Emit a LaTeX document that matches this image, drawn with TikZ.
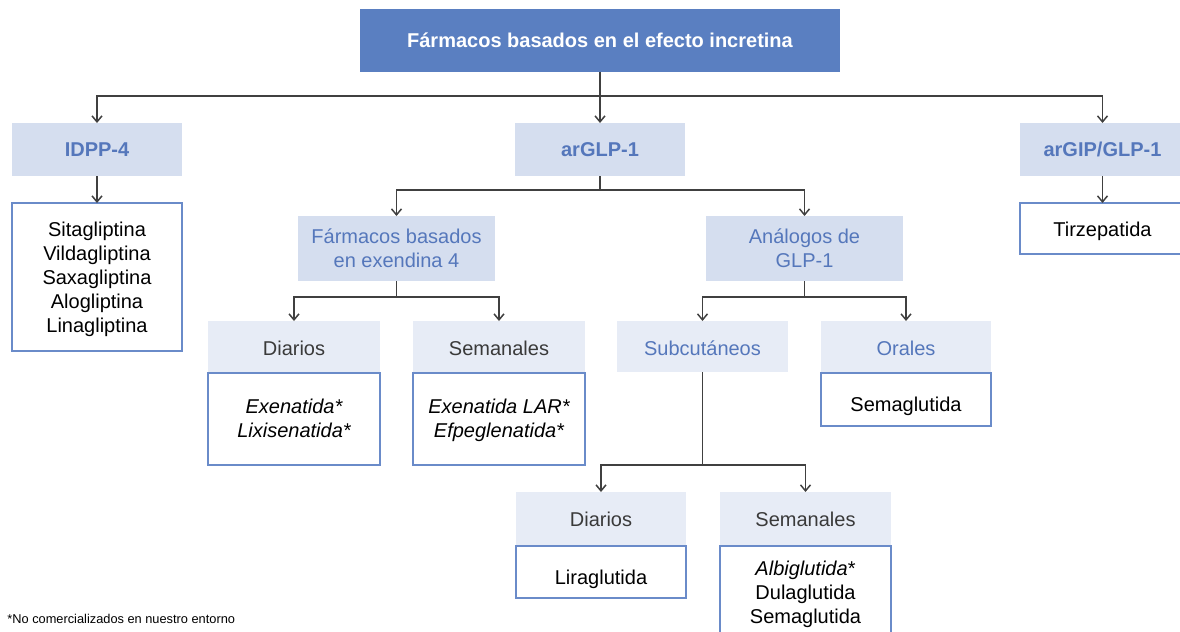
\documentclass[tikz,border=0pt]{standalone}
\usepackage{fontspec}
\setmainfont{Liberation Sans}
\usetikzlibrary{arrows.meta}
\definecolor{topblue}{HTML}{5A7FC1}
\definecolor{catfill}{HTML}{D5DEEF}
\definecolor{hdrfill}{HTML}{E7ECF6}
\definecolor{txtblue}{HTML}{5577BB}
\definecolor{bordblue}{HTML}{6A8BC9}
\definecolor{conn}{HTML}{404040}
\definecolor{graytxt}{HTML}{3A3A3A}
\newcommand\lowtxt[2]{\raisebox{-#1}[\height][\depth]{#2}}
\tikzset{
  sz/.style 2 args={minimum width=#1*0.5pt, minimum height=#2*0.5pt},
  base/.style={inner sep=0pt, outer sep=0pt, align=center, font=\fontsize{10}{12}\selectfont},
  topbox/.style={base, fill=topblue, text=white, font=\fontsize{10}{12}\selectfont\bfseries},
  catbox/.style={base, fill=catfill, text=txtblue, font=\fontsize{10}{12}\selectfont\bfseries},
  subbox/.style={base, fill=catfill, text=txtblue},
  hdrgray/.style={base, fill=hdrfill, text=graytxt},
  hdrblue/.style={base, fill=hdrfill, text=txtblue},
  listbox/.style={base, draw=bordblue, line width=0.7pt, fill=white, text=black},
  link/.style={draw=conn, line width=0.75pt},
  arr/.style={link, -{Straight Barb[length=3pt,width=5pt]}},
}
\begin{document}
\begin{tikzpicture}[x=0.5pt,y=-0.5pt]
\useasboundingbox (0,0) rectangle (1180,632);
% level 0
\node[topbox, sz={480}{63}] (top) at (600,40) {Fármacos basados en el efecto incretina};
% level 1
\node[catbox, sz={170}{53}] (idpp) at (97,149.5) {IDPP-4};
\node[catbox, sz={170}{53}] (arglp) at (600,149.5) {arGLP-1};
\node[catbox, sz={165}{53}] (argip) at (1102.5,149.5) {arGIP/GLP-1};
\node[listbox, sz={170}{148}] (sita) at (97,277) {\lowtxt{1.5pt}{\begin{tabular}{@{}c@{}}Sitagliptina\\Vildagliptina\\Saxagliptina\\Alogliptina\\Linagliptina\end{tabular}}};
\node[listbox, sz={165}{51}] (tirz) at (1102.5,228.5) {\lowtxt{1.5pt}{Tirzepatida}};
% level 2
\node[subbox, sz={197}{65}] (exend) at (396.5,248.5) {Fármacos basados\\en exendina 4};
\node[subbox, sz={197}{65}] (analog) at (804.5,248.5) {Análogos de\\GLP-1};
% level 3
\node[hdrgray, sz={172}{51}] (d1) at (294,346.5) {\lowtxt{0.7pt}{Diarios}};
\node[listbox, sz={172}{92}] (d1list) at (294,419) {\lowtxt{1pt}{\begin{tabular}{@{}c@{}}\itshape Exenatida*\\\itshape Lixisenatida*\end{tabular}}};
\node[hdrgray, sz={172}{51}] (s1) at (499,346.5) {\lowtxt{0.7pt}{Semanales}};
\node[listbox, sz={172}{92}] (s1list) at (499,419) {\lowtxt{1pt}{\begin{tabular}{@{}c@{}}\itshape Exenatida LAR*\\\itshape Efpeglenatida*\end{tabular}}};
\node[hdrblue, sz={171}{51}] (subc) at (702.5,346.5) {\lowtxt{0.7pt}{Subcutáneos}};
\node[hdrblue, sz={170}{51}] (oral) at (906,346.5) {\lowtxt{0.7pt}{Orales}};
\node[listbox, sz={170}{53}] (orallist) at (906,399.5) {\lowtxt{3.5pt}{Semaglutida}};
% level 4
\node[hdrgray, sz={170}{53}] (d2) at (601,518.5) {\lowtxt{0.5pt}{Diarios}};
\node[listbox, sz={170}{52}] (d2list) at (601,572) {\lowtxt{3.5pt}{Liraglutida}};
\node[hdrgray, sz={171}{53}] (s2) at (805.5,518.5) {\lowtxt{0.5pt}{Semanales}};
\node[listbox, sz={171}{94}] (s2list) at (805.5,593) {\lowtxt{1pt}{\begin{tabular}{@{}c@{}}\itshape Albiglutida\upshape*\\Dulaglutida\\Semaglutida\end{tabular}}};
% footnote
\node[anchor=west, inner sep=0pt, font=\fontsize{6.4}{7.5}\selectfont] (foot) at (7,619) {*No comercializados en nuestro entorno};
% connectors
\coordinate (j0) at (600,96);
\draw[link] (top.south) -- (j0);
\draw[arr] (j0) -- (arglp.north);
\draw[arr] (j0) -| (idpp.north);
\draw[arr] (j0) -| (argip.north);
\draw[arr] (idpp.south) -- (sita.north);
\draw[arr] (argip.south) -- (tirz.north);
\coordinate (j1) at (600,190);
\draw[link] (arglp.south) -- (j1);
\draw[arr] (j1) -| (exend.north);
\draw[arr] (j1) -| (analog.north);
\coordinate (j2) at (396.5,297);
\draw[link] (exend.south) -- (j2);
\draw[arr] (j2) -| (d1.north);
\draw[arr] (j2) -| (s1.north);
\coordinate (j3) at (804.5,297);
\draw[link] (analog.south) -- (j3);
\draw[arr] (j3) -| (subc.north);
\draw[arr] (j3) -| (oral.north);
\coordinate (j4) at (702.5,465);
\draw[link] (subc.south) -- (j4);
\draw[arr] (j4) -| (d2.north);
\draw[arr] (j4) -| (s2.north);
\end{tikzpicture}
\end{document}
